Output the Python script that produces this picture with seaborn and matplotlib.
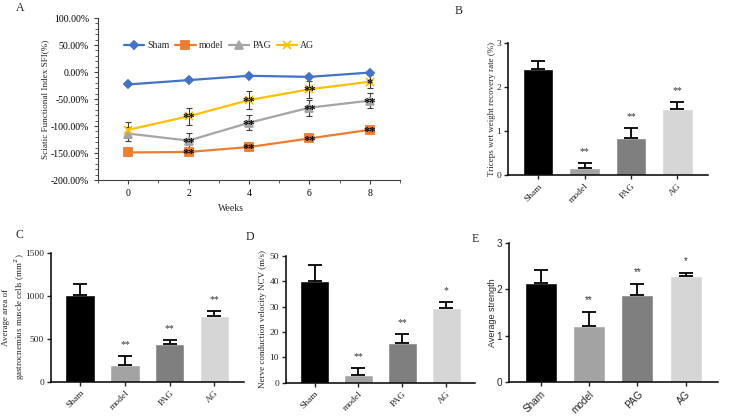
import numpy as np
import pandas as pd
import matplotlib
matplotlib.use('Agg')
import matplotlib.pyplot as plt
import seaborn as sns
from matplotlib.ticker import MultipleLocator, FuncFormatter

sns.set_style('ticks')
plt.rcParams['font.family'] = ['Liberation Serif', 'DejaVu Serif']
plt.rcParams['font.size'] = 6.5

# ---- data: panel A (SFI over weeks) ----
weeks = [0, 2, 4, 6, 8]
sham_sfi = [-23, -15, -7, -9, -1]
model_sfi = [-149, -148, -139, -123, -107]
pag_sfi = [-114, -127, -94, -66, -53]
ag_sfi = [-107, -82, -52, -32, -18]
sham_err = [1, 1, 1, 1, 1]
model_err = [5, 5, 5, 5, 5]
pag_err = [13, 14, 14, 15, 14]
ag_err = [15, 16, 16, 16, 12]
model_sig = ['', '**', '**', '**', '**']
pag_sig = ['', '**', '**', '**', '**']
ag_sig = ['', '**', '**', '**', '*']

# ---- data: bar panels ----
groups = ['Sham', 'model', 'PAG', 'AG']
triceps = [2.40, 0.17, 0.85, 1.51]
triceps_err = [0.18, 0.10, 0.21, 0.15]
triceps_sig = ['', '**', '**', '**']
area = [1008, 194, 435, 764]
area_err = [132, 108, 46, 62]
area_sig = ['', '**', '**', '**']
ncv = [40.0, 3.2, 15.7, 29.3]
ncv_err = [6.6, 2.5, 3.5, 2.7]
ncv_sig = ['', '**', '**', '*']
strength = [2.14, 1.22, 1.88, 2.28]
strength_err = [0.27, 0.28, 0.24, 0.07]
strength_sig = ['', '**', '**', '*']

BAR_COLORS = ['#000000', '#a3a3a3', '#7f7f7f', '#d6d6d6']
LINE_COLORS = ['#4472c4', '#ed7d31', '#a5a5a5', '#ffc000']
SANS = ['Liberation Sans', 'DejaVu Sans']

fig = plt.figure(figsize=(7.33, 4.17), dpi=100)

# ---- A ----
ax = fig.add_axes([0.1337, 0.5683, 0.412, 0.3885])
series = [('Sham', sham_sfi, sham_err, 'D', 4.5, None),
          ('model', model_sfi, model_err, 's', 5.5, model_sig),
          ('PAG', pag_sfi, pag_err, '^', 5.5, pag_sig),
          ('AG', ag_sfi, ag_err, 'x', 5.5, ag_sig)]
for (name, vals, err, mk, ms, sig), col in zip(series, LINE_COLORS):
    ax.errorbar(weeks, vals, yerr=err, fmt='none', ecolor='#404040',
                elinewidth=0.8, capsize=2.5, capthick=0.8, zorder=2)
    sns.lineplot(x=weeks, y=vals, color=col, marker=mk, markersize=ms,
                 markeredgecolor=col, markeredgewidth=1.3, linewidth=1.6,
                 label=name, ax=ax, zorder=3)
    if sig:
        for w, v, s in zip(weeks, vals, sig):
            if s:
                ax.text(w, v - 4, s, ha='center', va='center', fontsize=9,
                        fontweight='bold', color='black', zorder=4)
ax.set_xlim(-1, 9)
ax.set_ylim(-200, 100)
ax.set_xticks(weeks)
ax.xaxis.set_minor_locator(MultipleLocator(1))
ax.yaxis.set_major_locator(MultipleLocator(50))
ax.yaxis.set_minor_locator(MultipleLocator(10))
ax.yaxis.set_major_formatter(FuncFormatter(lambda v, p: f'{v:.2f}%'))
ax.tick_params(which='both', direction='out', colors='#404040', labelcolor='black', labelsize=7)
ax.tick_params(which='major', length=3)
ax.tick_params(which='minor', length=2)
for sp in ['top', 'right']:
    ax.spines[sp].set_visible(False)
for sp in ['left', 'bottom']:
    ax.spines[sp].set_color('#404040')
ax.set_xlabel('Weeks', fontsize=7)
ax.xaxis.set_label_coords(0.44, -0.145)
ax.set_ylabel('Sciatic Functional Index SFI(%)', fontsize=6.6)
ax.yaxis.set_label_coords(-0.162, 0.5)
ax.legend(ncol=4, loc='center left', bbox_to_anchor=(0.085, 0.83), frameon=False,
          fontsize=7, handlelength=2.1, columnspacing=0.6, handletextpad=0.3,
          borderpad=0, borderaxespad=0)


def bar_panel(rect, vals, err, sig, ylim, yticks, ylabel, label_x, family=None, tsize=6.8):
    bx = fig.add_axes(rect)
    sns.barplot(x=groups, y=vals, hue=groups, palette=BAR_COLORS, saturation=1,
                width=0.66, legend=False, ax=bx)
    bx.errorbar(range(4), vals, yerr=[[0] * 4, err], fmt='none', ecolor='black',
                elinewidth=1.3, capsize=5, capthick=1.3, zorder=3)
    for i, (v, e, s) in enumerate(zip(vals, err, sig)):
        if s:
            bx.annotate(s, (i, v + e), xytext=(0, 5), textcoords='offset points',
                        ha='center', va='bottom', fontsize=7, color='#333333',
                        family=family)
    bx.set_xlim(-0.65, 3.66)
    bx.set_ylim(*ylim)
    bx.set_yticks(yticks)
    bx.set_xlabel('')
    bx.set_ylabel(ylabel, fontsize=6.5, family=family, linespacing=1.2)
    bx.yaxis.set_label_coords(label_x, 0.5)
    sns.despine(ax=bx)
    for sp in ['left', 'bottom']:
        bx.spines[sp].set_linewidth(1.1)
        bx.spines[sp].set_color('black')
    bx.tick_params(direction='out', length=3, width=1, labelsize=tsize, pad=2)
    for lab in bx.get_xticklabels():
        lab.set_rotation(45)
        lab.set_ha('right')
        lab.set_rotation_mode('anchor')
        if family:
            lab.set_family(family)
    if family:
        for lab in bx.get_yticklabels():
            lab.set_family(family)
    return bx


bB = bar_panel([0.693, 0.5796, 0.2729, 0.318], triceps, triceps_err, triceps_sig,
               (0, 3), [0, 1, 2, 3], 'Triceps wet weight recovery rate (%)', -0.06)
bC = bar_panel([0.0696, 0.0847, 0.2633, 0.3094], area, area_err, area_sig,
               (0, 1500), [0, 500, 1000, 1500],
               'Average area of\ngastrocnemius muscle cells (mm$^2$)', -0.125)
bD = bar_panel([0.3902, 0.0823, 0.2578, 0.3038], ncv, ncv_err, ncv_sig,
               (0, 50), [0, 10, 20, 30, 40, 50], 'Nerve conduction velocity NCV (m/s)', -0.10)
bE = bar_panel([0.6944, 0.0832, 0.2851, 0.3348], strength, strength_err, strength_sig,
               (0, 3), [0, 1, 2, 3], 'Average strength', -0.057, family=SANS, tsize=7.2)

# panel letters
for letter, x, y in [('A', 20, 8), ('B', 459, 11), ('C', 19, 235), ('D', 250, 237), ('E', 475, 239)]:
    fig.text(x / 733, 1 - y / 417, letter, fontsize=8.5, ha='center', va='center')

plt.savefig('out.png', dpi=100)
plt.close()
